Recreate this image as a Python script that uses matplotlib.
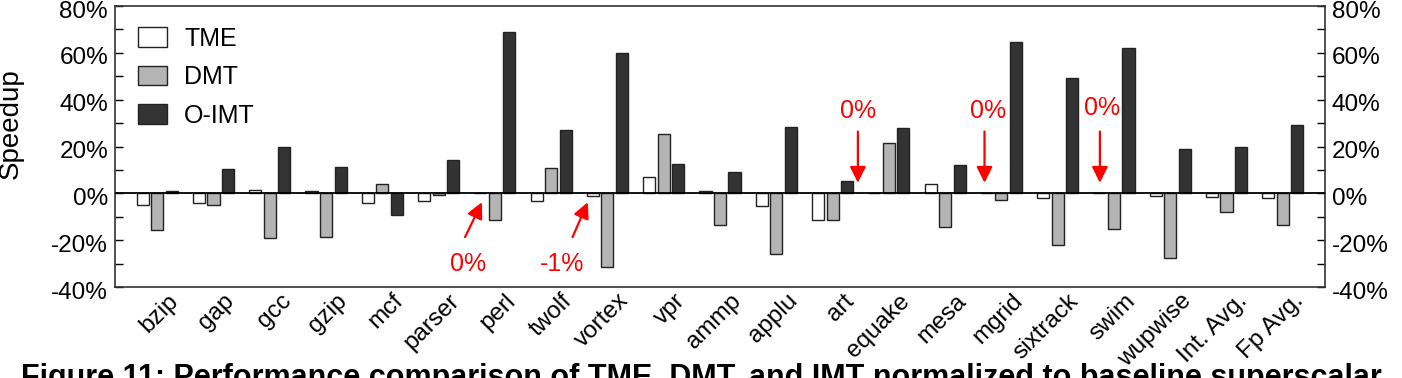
import matplotlib
matplotlib.use("Agg")
import matplotlib.pyplot as plt
import matplotlib.transforms as mtransforms
import numpy as np
from matplotlib.ticker import MultipleLocator, FuncFormatter

plt.rcParams['font.family'] = ['Liberation Sans', 'DejaVu Sans']

# --- data (speedup in %) ---
benchmarks = ['bzip', 'gap', 'gcc', 'gzip', 'mcf', 'parser', 'perl', 'twolf',
              'vortex', 'vpr', 'ammp', 'applu', 'art', 'equake', 'mesa',
              'mgrid', 'sixtrack', 'swim', 'wupwise', 'Int. Avg.', 'Fp Avg.']
tme = [-5.0, -4.3, 1.4, 1.1, -4.0, -3.4, 0.0, -3.3, -1.0, 7.1, 1.0, -5.2,
       -11.3, 0.0, 3.8, 0.0, -2.0, 0.0, -1.1, -1.6, -2.1]
dmt = [-15.6, -5.0, -19.0, -18.7, 4.0, -0.5, -11.5, 10.9, -31.5, 25.5, -13.6,
       -26.0, -11.3, 21.6, -14.5, -2.7, -22.0, -15.3, -27.5, -8.0, -13.5]
oimt = [1.0, 10.2, 19.6, 11.2, -9.4, 14.2, 69.0, 26.9, 60.0, 12.6, 9.0, 28.2,
        5.1, 27.8, 12.3, 64.7, 49.4, 62.0, 19.1, 19.7, 29.2]
series_names = ['TME', 'DMT', 'O-IMT']
series_colors = ['white', '#b4b4b4', '#333333']

# red callouts: (benchmark, label, text offset, arrow tail, arrow tip)
callouts = [
    ('perl', '0%', (-0.48, -30.0), (-0.53, -18.7), (-0.23, -3.8)),
    ('vortex', '-1%', (-0.81, -30.0), (-0.62, -18.7), (-0.35, -3.8)),
    ('equake', '0%', (-0.55, 35.0), (-0.55, 26.4), (-0.55, 4.5)),
    ('mgrid', '0%', (-0.24, 35.0), (-0.30, 26.4), (-0.30, 4.5)),
    ('swim', '0%', (-0.22, 36.5), (-0.25, 26.4), (-0.25, 4.5)),
]

fig = plt.figure(figsize=(14.02, 3.78), dpi=100)
ax = fig.add_axes([115 / 1402, 1 - 287 / 378, 1210 / 1402, 281 / 378])

x = np.arange(len(benchmarks))
step = 0.258
width = 0.215
for i, (vals, name, col) in enumerate(zip([tme, dmt, oimt], series_names, series_colors)):
    ax.bar(x + (i - 1) * step, vals, width, color=col, edgecolor='#222222',
           linewidth=1.0, label=name, zorder=2)

ax.axhline(0, color='black', linewidth=1.3, zorder=3)
ax.set_xlim(-0.75, len(benchmarks) - 0.25)
ax.set_ylim(-40, 80)
ax.yaxis.set_major_locator(MultipleLocator(20))
ax.yaxis.set_minor_locator(MultipleLocator(10))
ax.yaxis.set_major_formatter(FuncFormatter(lambda v, p: f'{v:.0f}%'))
ax.tick_params(axis='y', which='both', direction='in', left=True, right=True,
               labelleft=True, labelright=True, labelsize=17.5, length=6,
               width=1, pad=5)
ax.tick_params(axis='x', length=0, pad=2)
ax.set_xticks(x)
ax.set_xticklabels(benchmarks, rotation=45, ha='right', rotation_mode='anchor',
                   fontsize=17.5)

# nudge tick labels a few pixels, like the original figure
shift = mtransforms.ScaledTranslation(10 / 100, 0, fig.dpi_scale_trans)
for lbl in ax.get_xticklabels():
    lbl.set_transform(lbl.get_transform() + shift)
down = mtransforms.ScaledTranslation(0, -3 / 100, fig.dpi_scale_trans)
for t in ax.yaxis.get_major_ticks():
    t.label1.set_transform(t.label1.get_transform() + down)
    t.label2.set_transform(t.label2.get_transform() + down)

ax.set_ylabel('Speedup', fontsize=20)
ax.yaxis.set_label_coords(-0.075, 0.58)
for s in ax.spines.values():
    s.set_linewidth(1.2)
    s.set_color('#333333')

ax.legend(loc='upper left', frameon=False, fontsize=18, handlelength=1.15,
          handleheight=0.8, handletextpad=0.7, labelspacing=0.58,
          borderaxespad=0, borderpad=0.4, bbox_to_anchor=(0.0107, 0.962))

for name, label, txt, tail, tip in callouts:
    g = benchmarks.index(name)
    ax.annotate('', xy=(g + tip[0], tip[1]), xytext=(g + tail[0], tail[1]),
                arrowprops=dict(arrowstyle='-|>', color='red', lw=1.6,
                                mutation_scale=24, shrinkA=0, shrinkB=0),
                zorder=5)
    ax.text(g + txt[0], txt[1], label, color='red', fontsize=18,
            ha='center', va='center', zorder=5)

# caption is partly cut by the bottom edge, as in the source image
fig.text(0.5, 15 / 378, 'Figure 11: Performance comparison of TME, DMT, and IMT '
         'normalized to baseline superscalar', ha='center', va='top',
         fontsize=22, fontweight='bold')

fig.savefig('out.png', dpi=100)
